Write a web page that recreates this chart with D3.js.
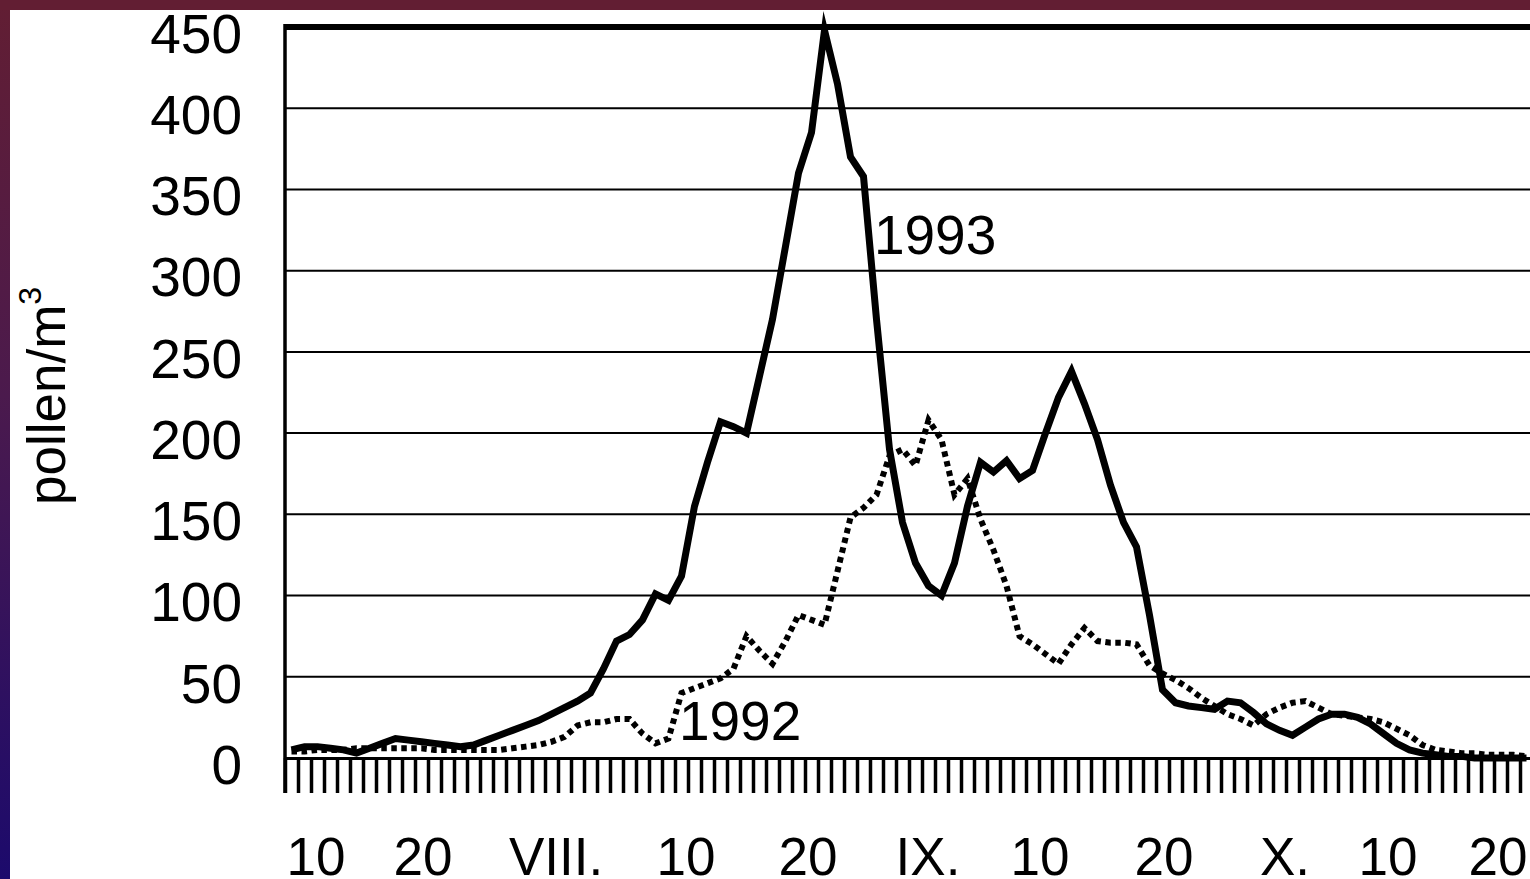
<!DOCTYPE html>
<html>
<head>
<meta charset="utf-8">
<script src="https://cdn.jsdelivr.net/npm/d3@7"></script>
<style>
  html, body { margin: 0; padding: 0; background: #ffffff; }
  svg { display: block; }
  text { font-family: "Liberation Sans", Arial, Helvetica, sans-serif; fill: #000; }
</style>
</head>
<body>
<svg id="chart" width="1530" height="879"></svg>
<script>
// Airborne pollen concentration, one value per sampling interval
const series1993 = [
  5, 7, 7, 6, 5, 3, 6, 9, 12, 11,
  10, 9, 8, 7, 8, 11, 14, 17, 20, 23,
  27, 31, 35, 40, 55, 72, 76, 85, 101, 97,
  112, 155, 182, 207, 204, 200, 235, 270, 315, 360,
  385, 448, 415, 370, 358, 270, 190, 145, 120, 106,
  100, 120, 155, 182, 176, 183, 172, 177, 200, 222,
  238, 218, 196, 168, 145, 130, 88, 42, 34, 32,
  31, 30, 35, 34, 28, 21, 17, 14, 19, 24,
  27, 27, 25, 21, 15, 9, 5, 3, 2, 1,
  1, 0, 0, 0, 0, 0
];
const series1992 = [
  4, 4, 5, 5, 5, 6, 6, 6, 6, 6,
  6, 5, 5, 5, 5, 5, 5, 6, 7, 8,
  10, 13, 20, 22, 22, 24, 24, 15, 9, 12,
  40, 43, 46, 49, 55, 75, 66, 58, 72, 88,
  85, 82, 115, 148, 154, 162, 186, 190, 180, 208,
  196, 162, 172, 147, 128, 106, 75, 70, 64, 58,
  70, 80, 72, 71, 71, 70, 57, 52, 48, 43,
  37, 32, 27, 24, 20, 27, 31, 34, 35, 31,
  27, 26, 25, 24, 22, 18, 14, 8, 5, 4,
  3, 3, 2, 2, 2, 1
];

// Category-axis labels (position in category units)
const tickLabels = ["10", "20", "VIII.", "10", "20", "IX.", "10", "20", "X.", "10", "20"];
const tickLabelPos = [2.38, 10.62, 20.85, 30.85, 40.23, 49.46, 58.08, 67.62, 76.92, 84.85, 93.31];

const yTicks = [0, 50, 100, 150, 200, 250, 300, 350, 400, 450];

// Series name labels placed inside the plot (category position, value)
const seriesLabels = [
  { text: "1993", pos: 45.3, value: 310 },
  { text: "1992", pos: 30.3, value: 11 }
];

const nCat = series1993.length;

const svg = d3.select("#chart");
const W = 1530, H = 879;

// Slide frame: coloured bands along the top and left edges
const defs = svg.append("defs");
const grad = defs.append("linearGradient")
  .attr("id", "frameGrad").attr("x1", 0).attr("y1", 0).attr("x2", 0).attr("y2", 1);
grad.append("stop").attr("offset", "0%").attr("stop-color", "#621e33");
grad.append("stop").attr("offset", "45%").attr("stop-color", "#4b1a4d");
grad.append("stop").attr("offset", "100%").attr("stop-color", "#1c0a6c");

svg.append("rect").attr("x", 0).attr("y", 0).attr("width", 10).attr("height", H)
  .attr("fill", "url(#frameGrad)");
svg.append("rect").attr("x", 0).attr("y", 0).attr("width", W).attr("height", 10)
  .attr("fill", "#621e33");

// Scales
const plotLeft = 285, step = 13;
const x = d3.scaleLinear().domain([0, nCat]).range([plotLeft, plotLeft + nCat * step]);
const y = d3.scaleLinear().domain([0, 450]).range([758, 27]);

const plot = svg.append("g");

// Horizontal gridlines
plot.append("g").selectAll("line")
  .data(yTicks.filter(v => v > 0 && v < 450))
  .join("line")
  .attr("x1", x(0)).attr("x2", x(nCat))
  .attr("y1", d => y(d)).attr("y2", d => y(d))
  .attr("stroke", "#000").attr("stroke-width", 2);

// Top border of the plot area
plot.append("line")
  .attr("x1", x(0)).attr("x2", x(nCat))
  .attr("y1", y(450)).attr("y2", y(450))
  .attr("stroke", "#000").attr("stroke-width", 6);

// Category axis with a tick at every category boundary
const xAxis = d3.axisBottom(x)
  .tickValues(d3.range(0, nCat + 1))
  .tickSize(35)
  .tickSizeOuter(0)
  .tickFormat("");
const gx = svg.append("g").attr("transform", `translate(0,${y(0)})`).call(xAxis);
gx.select(".domain").attr("stroke", "#000").attr("stroke-width", 3);
gx.selectAll(".tick line").attr("stroke", "#000").attr("stroke-width", 3.5);

// Left axis line
svg.append("line")
  .attr("x1", x(0)).attr("x2", x(0))
  .attr("y1", y(450) - 3).attr("y2", y(0) + 35)
  .attr("stroke", "#000").attr("stroke-width", 3.5);

// Value axis labels
const yAxis = d3.axisLeft(y).tickValues(yTicks).tickSize(0).tickPadding(43);
const gy = svg.append("g").attr("transform", `translate(${x(0)},0)`).call(yAxis);
gy.select(".domain").remove();
gy.selectAll(".tick text")
  .attr("dy", "0.46em")
  .style("font-family", '"Liberation Sans", Arial, sans-serif')
  .style("font-size", "55px")
  .attr("fill", "#000");

// Category labels under the ticks
svg.append("g").selectAll("text")
  .data(tickLabels)
  .join("text")
  .attr("x", (d, i) => x(tickLabelPos[i]))
  .attr("y", 875)
  .attr("text-anchor", "middle")
  .style("font-size", "53px")
  .text(d => d);

// Value axis title
const yTitle = svg.append("text")
  .attr("transform", "translate(65,505) rotate(-90)")
  .attr("text-anchor", "start")
  .style("font-size", "53px");
yTitle.append("tspan").text("pollen/m");
yTitle.append("tspan").attr("dy", -24).style("font-size", "32px").text("3");

// Lines
const line = d3.line()
  .x((d, i) => x(i + 0.5))
  .y(d => y(d));

plot.append("path")
  .datum(series1993)
  .attr("d", line)
  .attr("fill", "none")
  .attr("stroke", "#000")
  .attr("stroke-width", 7)
  .attr("stroke-linejoin", "miter")
  .attr("stroke-miterlimit", 20);

plot.append("path")
  .datum(series1992)
  .attr("d", line)
  .attr("fill", "none")
  .attr("stroke", "#000")
  .attr("stroke-width", 6)
  .attr("stroke-dasharray", "5.5 4.5")
  .attr("stroke-linecap", "butt");

// Series name labels
svg.append("g").selectAll("text")
  .data(seriesLabels)
  .join("text")
  .attr("x", d => x(d.pos))
  .attr("y", d => y(d.value))
  .style("font-size", "55px")
  .text(d => d.text);
</script>
</body>
</html>
